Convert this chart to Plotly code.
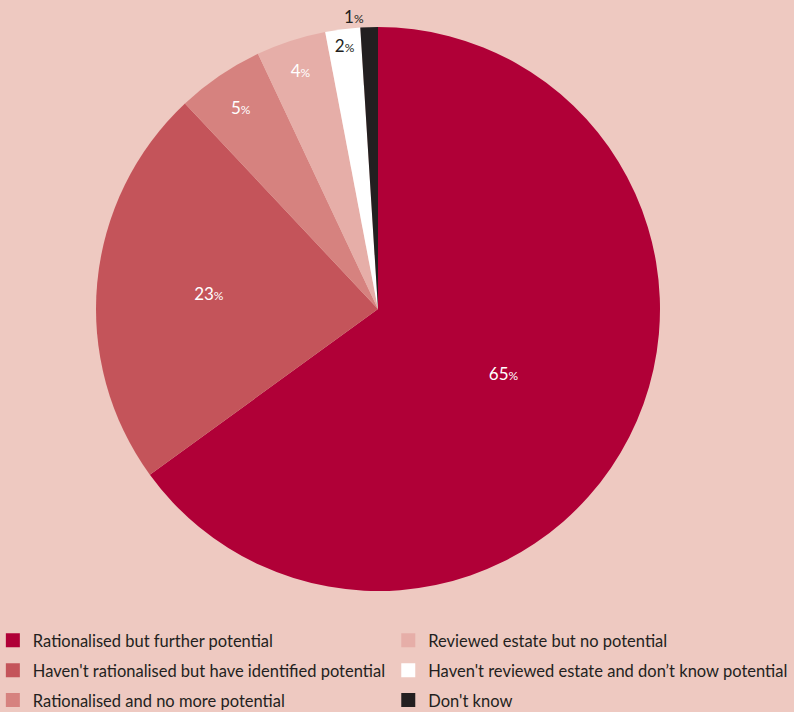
import plotly.graph_objects as go

categories = [
    "Rationalised but further potential",
    "Haven't rationalised but have identified potential",
    "Rationalised and no more potential",
    "Reviewed estate but no potential",
    "Haven't reviewed estate and don\u2019t know potential",
    "Don't know",
]
values = [65, 23, 5, 4, 2, 1]
colors = ["#B00037", "#C4545A", "#D6827F", "#E6AEA8", "#FFFFFF", "#231F20"]
text_colors = ["#FFFFFF", "#FFFFFF", "#FFFFFF", "#FFFFFF", "#231F20", "#231F20"]
positions = ["inside", "inside", "inside", "inside", "inside", "outside"]

BG = "#EEC9C1"
FONT = "Lato"

fig = go.Figure()
fig.add_trace(go.Pie(
    labels=categories,
    values=values,
    sort=False,
    direction="clockwise",
    rotation=0,
    marker=dict(colors=colors, line=dict(width=0)),
    texttemplate="%{value}<span style='font-size:12px'>%</span>",
    textposition=positions,
    insidetextorientation="horizontal",
    textfont=dict(family=FONT, size=17, color=text_colors),
    showlegend=False,
    hoverinfo="label+percent",
    domain=dict(x=[96 / 794, 660 / 794], y=[1 - 591 / 712, 1 - 27 / 712]),
))

for i, (cat, col) in enumerate(zip(categories, colors)):
    fig.add_trace(go.Scatter(
        x=[None], y=[None], mode="markers", name=cat,
        marker=dict(symbol="square", size=14, color=col),
        legend="legend" if i < 3 else "legend2",
        legendgroup=f"g{i}",
        showlegend=True,
    ))

legend_common = dict(
    font=dict(family=FONT, size=16.5, color="#231F20"),
    bgcolor="rgba(0,0,0,0)",
    orientation="v",
    yanchor="bottom",
    xanchor="left",
    y=-0.0084,
    tracegroupgap=5.5,
    itemclick=False,
    itemdoubleclick=False,
)

fig.update_layout(
    width=794,
    height=712,
    margin=dict(l=0, r=0, t=0, b=0, autoexpand=False),
    paper_bgcolor=BG,
    plot_bgcolor=BG,
    xaxis=dict(visible=False),
    yaxis=dict(visible=False),
    legend=dict(x=-0.009, **legend_common),
    legend2=dict(x=0.489, **legend_common),
)

fig.write_html("out.html")
